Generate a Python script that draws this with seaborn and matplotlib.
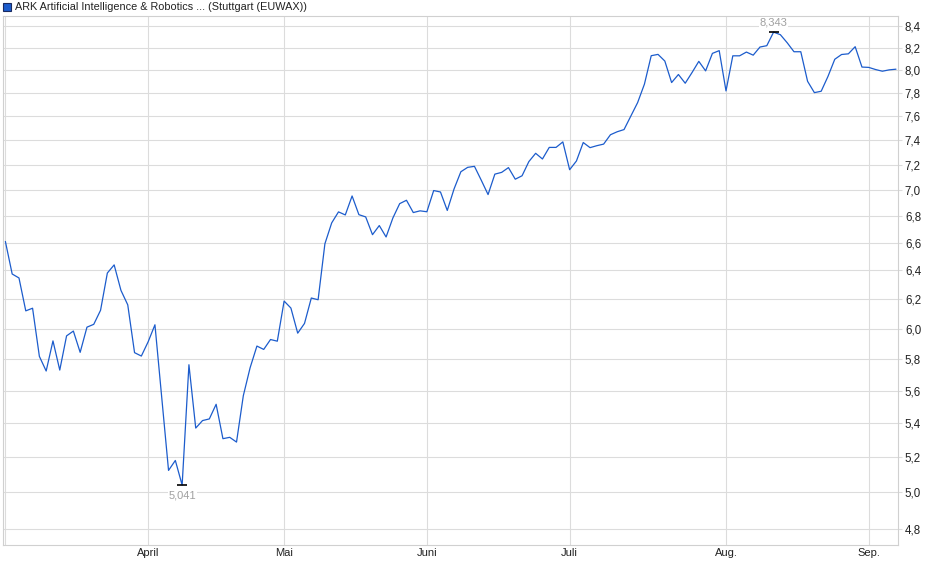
import seaborn as sns
import pandas as pd
import numpy as np
import matplotlib.pyplot as plt
from matplotlib.patches import Rectangle

# trading days (Stuttgart), holidays removed
holidays = ['2025-04-18', '2025-04-21', '2025-05-01']
dates = pd.bdate_range('2025-03-03', '2025-09-05')
dates = dates[~dates.isin(pd.to_datetime(holidays))]

prices = [
    6.610, 6.375, 6.347, 6.119, 6.137, 5.817, 5.723, 5.918, 5.729, 5.951,
    5.983, 5.843, 6.009, 6.028, 6.123, 6.382, 6.440, 6.260, 6.160, 5.841,
    5.819, 5.912, 6.025, 5.555, 5.124, 5.181, 5.041, 5.763, 5.371, 5.416,
    5.426, 5.515, 5.308, 5.316, 5.288, 5.568, 5.744, 5.884, 5.862, 5.927,
    5.916, 6.186, 6.138, 5.969, 6.034, 6.207, 6.195, 6.593, 6.748, 6.831,
    6.808, 6.953, 6.810, 6.793, 6.660, 6.728, 6.643, 6.785, 6.894, 6.920,
    6.826, 6.839, 6.832, 6.995, 6.984, 6.842, 7.008, 7.143, 7.178, 7.186,
    7.076, 6.964, 7.124, 7.138, 7.176, 7.084, 7.111, 7.224, 7.291, 7.245,
    7.339, 7.339, 7.384, 7.159, 7.229, 7.379, 7.337, 7.353, 7.366, 7.443,
    7.468, 7.486, 7.600, 7.714, 7.874, 8.127, 8.139, 8.079, 7.888, 7.959,
    7.882, 7.976, 8.076, 7.991, 8.148, 8.173, 7.815, 8.126, 8.126, 8.160,
    8.132, 8.206, 8.218, 8.343, 8.319, 8.245, 8.163, 8.163, 7.899, 7.800,
    7.812, 7.942, 8.095, 8.138, 8.144, 8.209, 8.025, 8.022, 8.003, 7.988,
    8.000, 8.006,
]

month_labels = ['', 'April', 'Mai', 'Juni', 'Juli', 'Aug.', 'Sep.']
y_ticks = [4.8, 5.0, 5.2, 5.4, 5.6, 5.8, 6.0, 6.2, 6.4, 6.6, 6.8,
           7.0, 7.2, 7.4, 7.6, 7.8, 8.0, 8.2, 8.4]
title = 'ARK Artificial Intelligence & Robotics ... (Stuttgart (EUWAX))'

line_col = '#1c5ccc'
grid_col = '#dcdcdc'

df = pd.DataFrame({'date': dates, 'price': prices})
df['pos'] = np.arange(len(df))
month_starts = df.groupby(df['date'].dt.to_period('M'))['pos'].min().values

sns.set_style('white')
plt.rcParams['font.family'] = ['Liberation Sans', 'DejaVu Sans']

fig = plt.figure(figsize=(9.4, 5.79), dpi=100)
ax = fig.add_axes([3 / 940, 1 - 545 / 579, 895 / 940, 529 / 579])

sns.lineplot(data=df, x='pos', y='price', ax=ax, color=line_col, linewidth=0.9)

ax.set_yscale('log')
ax.set_ylim(4.716, 8.494)
ax.set_xlim(-0.35, 131.3)
ax.minorticks_off()
ax.set_yticks(y_ticks)
ax.set_yticklabels([f'{v:.1f}'.replace('.', ',') for v in y_ticks])
ax.set_xticks(month_starts)
ax.set_xticklabels(month_labels)
ax.yaxis.tick_right()
ax.tick_params(axis='y', length=3, color=grid_col, pad=2, labelsize=8.3, labelcolor='#222222')
ax.tick_params(axis='x', length=0, pad=2, labelsize=8, labelcolor='#222222')
ax.grid(True, color=grid_col, linewidth=0.8)
ax.set_axisbelow(True)
for s in ax.spines.values():
    s.set_color('#d0d0d0')
    s.set_linewidth(0.8)
ax.set_xlabel('')
ax.set_ylabel('')

# min / max markers
lo = df.loc[df['price'].idxmin()]
hi = df.loc[df['price'].idxmax()]
for row, dy, va in [(lo, -4, 'top'), (hi, 3, 'bottom')]:
    ax.plot([row['pos']], [row['price']], marker='_', ms=7, mew=1.2, color='black')
    ax.annotate(f"{row['price']:.3f}".replace('.', ','), (row['pos'], row['price']),
                xytext=(0, dy), textcoords='offset points', ha='center', va=va,
                fontsize=8, color='#a0a0a0',
                bbox=dict(facecolor='white', edgecolor='none', pad=0.5))

# legend box
fig.patches.append(Rectangle((3 / 940, 1 - 11 / 579), 8 / 940, 8 / 579,
                             transform=fig.transFigure, facecolor=line_col,
                             edgecolor='#1a2a60', linewidth=0.8))
fig.text(15 / 940, 1 - 7 / 579, title, fontsize=7.8, color='#222222', va='center', ha='left')

fig.savefig('out.png', dpi=100)
